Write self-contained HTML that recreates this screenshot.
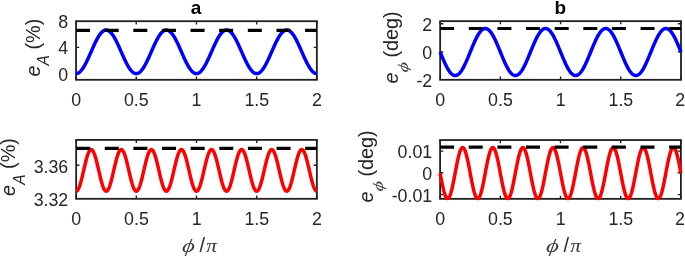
<!DOCTYPE html>
<html><head><meta charset="utf-8"><title>figure</title>
<style>
html,body{margin:0;padding:0;background:#fff;}
svg{display:block;}
text{font-family:"Liberation Sans",sans-serif;fill:#262626;}
.tk{font-size:17.8px;}
.lb{font-size:19.85px;}
.ti{font-size:19px;font-weight:bold;fill:#000;}
.it{font-style:italic;}
.m{font-family:"Liberation Serif","DejaVu Serif",serif;font-style:italic;fill:#383838;}
</style></head><body>
<svg width="685" height="257" viewBox="0 0 685 257">
<rect width="685" height="257" fill="#fff"/>

<rect x="76.05" y="21.2" width="240.8" height="58.6" fill="none" stroke="#202020" stroke-width="1.8"/>
<path d="M76.05 79.8v-3.2M76.05 21.2v3.2M136.25 79.8v-3.2M136.25 21.2v3.2M196.45 79.8v-3.2M196.45 21.2v3.2M256.65 79.8v-3.2M256.65 21.2v3.2M316.85 79.8v-3.2M316.85 21.2v3.2M76.05 47.4h3.2M316.85 47.4h-3.2M76.05 73.6h3.2M316.85 73.6h-3.2" stroke="#202020" stroke-width="1.4" fill="none"/>
<polyline points="76.05,73.6 76.45,73.58 76.85,73.52 77.25,73.43 77.66,73.29 78.06,73.12 78.46,72.92 78.86,72.67 79.26,72.39 79.66,72.07 80.06,71.72 80.46,71.33 80.87,70.9 81.27,70.45 81.67,69.96 82.07,69.44 82.47,68.88 82.87,68.3 83.27,67.69 83.68,67.05 84.08,66.39 84.48,65.7 84.88,64.98 85.28,64.24 85.68,63.48 86.08,62.7 86.48,61.9 86.89,61.08 87.29,60.25 87.69,59.4 88.09,58.54 88.49,57.66 88.89,56.78 89.29,55.88 89.7,54.98 90.1,54.08 90.5,53.17 90.9,52.26 91.3,51.34 91.7,50.43 92.1,49.52 92.5,48.62 92.91,47.72 93.31,46.82 93.71,45.94 94.11,45.06 94.51,44.2 94.91,43.35 95.31,42.52 95.72,41.7 96.12,40.9 96.52,40.12 96.92,39.36 97.32,38.62 97.72,37.9 98.12,37.21 98.52,36.55 98.93,35.91 99.33,35.3 99.73,34.72 100.13,34.16 100.53,33.64 100.93,33.15 101.33,32.7 101.74,32.27 102.14,31.88 102.54,31.53 102.94,31.21 103.34,30.93 103.74,30.68 104.14,30.48 104.54,30.31 104.95,30.17 105.35,30.08 105.75,30.02 106.15,30 106.55,30.02 106.95,30.08 107.35,30.17 107.76,30.31 108.16,30.48 108.56,30.68 108.96,30.93 109.36,31.21 109.76,31.53 110.16,31.88 110.56,32.27 110.97,32.7 111.37,33.15 111.77,33.64 112.17,34.16 112.57,34.72 112.97,35.3 113.37,35.91 113.78,36.55 114.18,37.21 114.58,37.9 114.98,38.62 115.38,39.36 115.78,40.12 116.18,40.9 116.58,41.7 116.99,42.52 117.39,43.35 117.79,44.2 118.19,45.06 118.59,45.94 118.99,46.82 119.39,47.72 119.8,48.62 120.2,49.52 120.6,50.43 121,51.34 121.4,52.26 121.8,53.17 122.2,54.08 122.6,54.98 123.01,55.88 123.41,56.78 123.81,57.66 124.21,58.54 124.61,59.4 125.01,60.25 125.41,61.08 125.82,61.9 126.22,62.7 126.62,63.48 127.02,64.24 127.42,64.98 127.82,65.7 128.22,66.39 128.62,67.05 129.03,67.69 129.43,68.3 129.83,68.88 130.23,69.44 130.63,69.96 131.03,70.45 131.43,70.9 131.84,71.33 132.24,71.72 132.64,72.07 133.04,72.39 133.44,72.67 133.84,72.92 134.24,73.12 134.64,73.29 135.05,73.43 135.45,73.52 135.85,73.58 136.25,73.6 136.65,73.58 137.05,73.52 137.45,73.43 137.86,73.29 138.26,73.12 138.66,72.92 139.06,72.67 139.46,72.39 139.86,72.07 140.26,71.72 140.66,71.33 141.07,70.9 141.47,70.45 141.87,69.96 142.27,69.44 142.67,68.88 143.07,68.3 143.47,67.69 143.88,67.05 144.28,66.39 144.68,65.7 145.08,64.98 145.48,64.24 145.88,63.48 146.28,62.7 146.68,61.9 147.09,61.08 147.49,60.25 147.89,59.4 148.29,58.54 148.69,57.66 149.09,56.78 149.49,55.88 149.9,54.98 150.3,54.08 150.7,53.17 151.1,52.26 151.5,51.34 151.9,50.43 152.3,49.52 152.7,48.62 153.11,47.72 153.51,46.82 153.91,45.94 154.31,45.06 154.71,44.2 155.11,43.35 155.51,42.52 155.92,41.7 156.32,40.9 156.72,40.12 157.12,39.36 157.52,38.62 157.92,37.9 158.32,37.21 158.72,36.55 159.13,35.91 159.53,35.3 159.93,34.72 160.33,34.16 160.73,33.64 161.13,33.15 161.53,32.7 161.94,32.27 162.34,31.88 162.74,31.53 163.14,31.21 163.54,30.93 163.94,30.68 164.34,30.48 164.74,30.31 165.15,30.17 165.55,30.08 165.95,30.02 166.35,30 166.75,30.02 167.15,30.08 167.55,30.17 167.96,30.31 168.36,30.48 168.76,30.68 169.16,30.93 169.56,31.21 169.96,31.53 170.36,31.88 170.76,32.27 171.17,32.7 171.57,33.15 171.97,33.64 172.37,34.16 172.77,34.72 173.17,35.3 173.57,35.91 173.98,36.55 174.38,37.21 174.78,37.9 175.18,38.62 175.58,39.36 175.98,40.12 176.38,40.9 176.78,41.7 177.19,42.52 177.59,43.35 177.99,44.2 178.39,45.06 178.79,45.94 179.19,46.82 179.59,47.72 180,48.62 180.4,49.52 180.8,50.43 181.2,51.34 181.6,52.26 182,53.17 182.4,54.08 182.8,54.98 183.21,55.88 183.61,56.78 184.01,57.66 184.41,58.54 184.81,59.4 185.21,60.25 185.61,61.08 186.02,61.9 186.42,62.7 186.82,63.48 187.22,64.24 187.62,64.98 188.02,65.7 188.42,66.39 188.82,67.05 189.23,67.69 189.63,68.3 190.03,68.88 190.43,69.44 190.83,69.96 191.23,70.45 191.63,70.9 192.04,71.33 192.44,71.72 192.84,72.07 193.24,72.39 193.64,72.67 194.04,72.92 194.44,73.12 194.84,73.29 195.25,73.43 195.65,73.52 196.05,73.58 196.45,73.6 196.85,73.58 197.25,73.52 197.65,73.43 198.06,73.29 198.46,73.12 198.86,72.92 199.26,72.67 199.66,72.39 200.06,72.07 200.46,71.72 200.86,71.33 201.27,70.9 201.67,70.45 202.07,69.96 202.47,69.44 202.87,68.88 203.27,68.3 203.67,67.69 204.08,67.05 204.48,66.39 204.88,65.7 205.28,64.98 205.68,64.24 206.08,63.48 206.48,62.7 206.88,61.9 207.29,61.08 207.69,60.25 208.09,59.4 208.49,58.54 208.89,57.66 209.29,56.78 209.69,55.88 210.1,54.98 210.5,54.08 210.9,53.17 211.3,52.26 211.7,51.34 212.1,50.43 212.5,49.52 212.9,48.62 213.31,47.72 213.71,46.82 214.11,45.94 214.51,45.06 214.91,44.2 215.31,43.35 215.71,42.52 216.12,41.7 216.52,40.9 216.92,40.12 217.32,39.36 217.72,38.62 218.12,37.9 218.52,37.21 218.92,36.55 219.33,35.91 219.73,35.3 220.13,34.72 220.53,34.16 220.93,33.64 221.33,33.15 221.73,32.7 222.14,32.27 222.54,31.88 222.94,31.53 223.34,31.21 223.74,30.93 224.14,30.68 224.54,30.48 224.94,30.31 225.35,30.17 225.75,30.08 226.15,30.02 226.55,30 226.95,30.02 227.35,30.08 227.75,30.17 228.16,30.31 228.56,30.48 228.96,30.68 229.36,30.93 229.76,31.21 230.16,31.53 230.56,31.88 230.96,32.27 231.37,32.7 231.77,33.15 232.17,33.64 232.57,34.16 232.97,34.72 233.37,35.3 233.77,35.91 234.18,36.55 234.58,37.21 234.98,37.9 235.38,38.62 235.78,39.36 236.18,40.12 236.58,40.9 236.98,41.7 237.39,42.52 237.79,43.35 238.19,44.2 238.59,45.06 238.99,45.94 239.39,46.82 239.79,47.72 240.2,48.62 240.6,49.52 241,50.43 241.4,51.34 241.8,52.26 242.2,53.17 242.6,54.08 243,54.98 243.41,55.88 243.81,56.78 244.21,57.66 244.61,58.54 245.01,59.4 245.41,60.25 245.81,61.08 246.22,61.9 246.62,62.7 247.02,63.48 247.42,64.24 247.82,64.98 248.22,65.7 248.62,66.39 249.02,67.05 249.43,67.69 249.83,68.3 250.23,68.88 250.63,69.44 251.03,69.96 251.43,70.45 251.83,70.9 252.24,71.33 252.64,71.72 253.04,72.07 253.44,72.39 253.84,72.67 254.24,72.92 254.64,73.12 255.04,73.29 255.45,73.43 255.85,73.52 256.25,73.58 256.65,73.6 257.05,73.58 257.45,73.52 257.85,73.43 258.26,73.29 258.66,73.12 259.06,72.92 259.46,72.67 259.86,72.39 260.26,72.07 260.66,71.72 261.06,71.33 261.47,70.9 261.87,70.45 262.27,69.96 262.67,69.44 263.07,68.88 263.47,68.3 263.87,67.69 264.28,67.05 264.68,66.39 265.08,65.7 265.48,64.98 265.88,64.24 266.28,63.48 266.68,62.7 267.08,61.9 267.49,61.08 267.89,60.25 268.29,59.4 268.69,58.54 269.09,57.66 269.49,56.78 269.89,55.88 270.3,54.98 270.7,54.08 271.1,53.17 271.5,52.26 271.9,51.34 272.3,50.43 272.7,49.52 273.1,48.62 273.51,47.72 273.91,46.82 274.31,45.94 274.71,45.06 275.11,44.2 275.51,43.35 275.91,42.52 276.32,41.7 276.72,40.9 277.12,40.12 277.52,39.36 277.92,38.62 278.32,37.9 278.72,37.21 279.12,36.55 279.53,35.91 279.93,35.3 280.33,34.72 280.73,34.16 281.13,33.64 281.53,33.15 281.93,32.7 282.34,32.27 282.74,31.88 283.14,31.53 283.54,31.21 283.94,30.93 284.34,30.68 284.74,30.48 285.14,30.31 285.55,30.17 285.95,30.08 286.35,30.02 286.75,30 287.15,30.02 287.55,30.08 287.95,30.17 288.36,30.31 288.76,30.48 289.16,30.68 289.56,30.93 289.96,31.21 290.36,31.53 290.76,31.88 291.16,32.27 291.57,32.7 291.97,33.15 292.37,33.64 292.77,34.16 293.17,34.72 293.57,35.3 293.97,35.91 294.38,36.55 294.78,37.21 295.18,37.9 295.58,38.62 295.98,39.36 296.38,40.12 296.78,40.9 297.18,41.7 297.59,42.52 297.99,43.35 298.39,44.2 298.79,45.06 299.19,45.94 299.59,46.82 299.99,47.72 300.4,48.62 300.8,49.52 301.2,50.43 301.6,51.34 302,52.26 302.4,53.17 302.8,54.08 303.2,54.98 303.61,55.88 304.01,56.78 304.41,57.66 304.81,58.54 305.21,59.4 305.61,60.25 306.01,61.08 306.42,61.9 306.82,62.7 307.22,63.48 307.62,64.24 308.02,64.98 308.42,65.7 308.82,66.39 309.22,67.05 309.63,67.69 310.03,68.3 310.43,68.88 310.83,69.44 311.23,69.96 311.63,70.45 312.03,70.9 312.44,71.33 312.84,71.72 313.24,72.07 313.64,72.39 314.04,72.67 314.44,72.92 314.84,73.12 315.24,73.29 315.65,73.43 316.05,73.52 316.45,73.58 316.85,73.6" fill="none" stroke="#0000ff" stroke-width="3.5" stroke-linejoin="round"/>
<line x1="76.05" y1="30.35" x2="316.85" y2="30.35" stroke="#000" stroke-width="3.2" stroke-dasharray="14 14.63"/>
<text class="tk" x="76.15" y="105.6" text-anchor="middle">0</text>
<text class="tk" x="136.35" y="105.6" text-anchor="middle">0.5</text>
<text class="tk" x="196.55" y="105.6" text-anchor="middle">1</text>
<text class="tk" x="256.75" y="105.6" text-anchor="middle">1.5</text>
<text class="tk" x="316.95" y="105.6" text-anchor="middle">2</text>
<text class="tk" x="68.15" y="28.1" text-anchor="end">8</text>
<text class="tk" x="68.15" y="54.4" text-anchor="end">4</text>
<text class="tk" x="68.15" y="80.6" text-anchor="end">0</text>
<rect x="440.15" y="21.15" width="240.85" height="58.65" fill="none" stroke="#202020" stroke-width="1.8"/>
<path d="M440.15 79.8v-3.2M440.15 21.15v3.2M500.36 79.8v-3.2M500.36 21.15v3.2M560.58 79.8v-3.2M560.58 21.15v3.2M620.79 79.8v-3.2M620.79 21.15v3.2M681 79.8v-3.2M681 21.15v3.2M440.15 23.8h3.2M681 23.8h-3.2M440.15 51.9h3.2M681 51.9h-3.2" stroke="#202020" stroke-width="1.4" fill="none"/>
<polyline points="440.15,52 440.55,52.98 440.95,53.97 441.35,54.95 441.76,55.92 442.16,56.89 442.56,57.84 442.96,58.79 443.36,59.73 443.76,60.65 444.16,61.56 444.57,62.45 444.97,63.32 445.37,64.17 445.77,65 446.17,65.81 446.57,66.6 446.97,67.36 447.38,68.09 447.78,68.79 448.18,69.46 448.58,70.11 448.98,70.72 449.38,71.3 449.78,71.84 450.19,72.35 450.59,72.83 450.99,73.26 451.39,73.66 451.79,74.03 452.19,74.35 452.59,74.63 453,74.88 453.4,75.08 453.8,75.25 454.2,75.37 454.6,75.45 455,75.49 455.4,75.49 455.81,75.45 456.21,75.37 456.61,75.25 457.01,75.08 457.41,74.88 457.81,74.63 458.21,74.35 458.62,74.03 459.02,73.66 459.42,73.26 459.82,72.83 460.22,72.35 460.62,71.84 461.02,71.3 461.43,70.72 461.83,70.11 462.23,69.46 462.63,68.79 463.03,68.09 463.43,67.36 463.83,66.6 464.23,65.81 464.64,65 465.04,64.17 465.44,63.32 465.84,62.45 466.24,61.56 466.64,60.65 467.04,59.73 467.45,58.79 467.85,57.84 468.25,56.89 468.65,55.92 469.05,54.95 469.45,53.97 469.85,52.98 470.26,52 470.66,51.02 471.06,50.03 471.46,49.05 471.86,48.08 472.26,47.11 472.66,46.16 473.07,45.21 473.47,44.27 473.87,43.35 474.27,42.44 474.67,41.55 475.07,40.68 475.47,39.83 475.88,39 476.28,38.19 476.68,37.4 477.08,36.64 477.48,35.91 477.88,35.21 478.28,34.54 478.69,33.89 479.09,33.28 479.49,32.7 479.89,32.16 480.29,31.65 480.69,31.17 481.09,30.74 481.5,30.34 481.9,29.97 482.3,29.65 482.7,29.37 483.1,29.12 483.5,28.92 483.9,28.75 484.31,28.63 484.71,28.55 485.11,28.51 485.51,28.51 485.91,28.55 486.31,28.63 486.71,28.75 487.12,28.92 487.52,29.12 487.92,29.37 488.32,29.65 488.72,29.97 489.12,30.34 489.52,30.74 489.93,31.17 490.33,31.65 490.73,32.16 491.13,32.7 491.53,33.28 491.93,33.89 492.33,34.54 492.74,35.21 493.14,35.91 493.54,36.64 493.94,37.4 494.34,38.19 494.74,39 495.14,39.83 495.55,40.68 495.95,41.55 496.35,42.44 496.75,43.35 497.15,44.27 497.55,45.21 497.95,46.16 498.36,47.11 498.76,48.08 499.16,49.05 499.56,50.03 499.96,51.02 500.36,52 500.76,52.98 501.17,53.97 501.57,54.95 501.97,55.92 502.37,56.89 502.77,57.84 503.17,58.79 503.57,59.73 503.98,60.65 504.38,61.56 504.78,62.45 505.18,63.32 505.58,64.17 505.98,65 506.38,65.81 506.79,66.6 507.19,67.36 507.59,68.09 507.99,68.79 508.39,69.46 508.79,70.11 509.19,70.72 509.6,71.3 510,71.84 510.4,72.35 510.8,72.83 511.2,73.26 511.6,73.66 512,74.03 512.4,74.35 512.81,74.63 513.21,74.88 513.61,75.08 514.01,75.25 514.41,75.37 514.81,75.45 515.21,75.49 515.62,75.49 516.02,75.45 516.42,75.37 516.82,75.25 517.22,75.08 517.62,74.88 518.02,74.63 518.43,74.35 518.83,74.03 519.23,73.66 519.63,73.26 520.03,72.83 520.43,72.35 520.83,71.84 521.24,71.3 521.64,70.72 522.04,70.11 522.44,69.46 522.84,68.79 523.24,68.09 523.64,67.36 524.05,66.6 524.45,65.81 524.85,65 525.25,64.17 525.65,63.32 526.05,62.45 526.45,61.56 526.86,60.65 527.26,59.73 527.66,58.79 528.06,57.84 528.46,56.89 528.86,55.92 529.26,54.95 529.67,53.97 530.07,52.98 530.47,52 530.87,51.02 531.27,50.03 531.67,49.05 532.07,48.08 532.48,47.11 532.88,46.16 533.28,45.21 533.68,44.27 534.08,43.35 534.48,42.44 534.88,41.55 535.29,40.68 535.69,39.83 536.09,39 536.49,38.19 536.89,37.4 537.29,36.64 537.69,35.91 538.1,35.21 538.5,34.54 538.9,33.89 539.3,33.28 539.7,32.7 540.1,32.16 540.5,31.65 540.91,31.17 541.31,30.74 541.71,30.34 542.11,29.97 542.51,29.65 542.91,29.37 543.31,29.12 543.72,28.92 544.12,28.75 544.52,28.63 544.92,28.55 545.32,28.51 545.72,28.51 546.12,28.55 546.53,28.63 546.93,28.75 547.33,28.92 547.73,29.12 548.13,29.37 548.53,29.65 548.93,29.97 549.34,30.34 549.74,30.74 550.14,31.17 550.54,31.65 550.94,32.16 551.34,32.7 551.74,33.28 552.15,33.89 552.55,34.54 552.95,35.21 553.35,35.91 553.75,36.64 554.15,37.4 554.55,38.19 554.96,39 555.36,39.83 555.76,40.68 556.16,41.55 556.56,42.44 556.96,43.35 557.36,44.27 557.77,45.21 558.17,46.16 558.57,47.11 558.97,48.08 559.37,49.05 559.77,50.03 560.17,51.02 560.58,52 560.98,52.98 561.38,53.97 561.78,54.95 562.18,55.92 562.58,56.89 562.98,57.84 563.38,58.79 563.79,59.73 564.19,60.65 564.59,61.56 564.99,62.45 565.39,63.32 565.79,64.17 566.19,65 566.6,65.81 567,66.6 567.4,67.36 567.8,68.09 568.2,68.79 568.6,69.46 569,70.11 569.41,70.72 569.81,71.3 570.21,71.84 570.61,72.35 571.01,72.83 571.41,73.26 571.81,73.66 572.22,74.03 572.62,74.35 573.02,74.63 573.42,74.88 573.82,75.08 574.22,75.25 574.62,75.37 575.03,75.45 575.43,75.49 575.83,75.49 576.23,75.45 576.63,75.37 577.03,75.25 577.43,75.08 577.84,74.88 578.24,74.63 578.64,74.35 579.04,74.03 579.44,73.66 579.84,73.26 580.24,72.83 580.65,72.35 581.05,71.84 581.45,71.3 581.85,70.72 582.25,70.11 582.65,69.46 583.05,68.79 583.46,68.09 583.86,67.36 584.26,66.6 584.66,65.81 585.06,65 585.46,64.17 585.86,63.32 586.27,62.45 586.67,61.56 587.07,60.65 587.47,59.73 587.87,58.79 588.27,57.84 588.67,56.89 589.08,55.92 589.48,54.95 589.88,53.97 590.28,52.98 590.68,52 591.08,51.02 591.48,50.03 591.89,49.05 592.29,48.08 592.69,47.11 593.09,46.16 593.49,45.21 593.89,44.27 594.29,43.35 594.7,42.44 595.1,41.55 595.5,40.68 595.9,39.83 596.3,39 596.7,38.19 597.1,37.4 597.51,36.64 597.91,35.91 598.31,35.21 598.71,34.54 599.11,33.89 599.51,33.28 599.91,32.7 600.32,32.16 600.72,31.65 601.12,31.17 601.52,30.74 601.92,30.34 602.32,29.97 602.72,29.65 603.13,29.37 603.53,29.12 603.93,28.92 604.33,28.75 604.73,28.63 605.13,28.55 605.53,28.51 605.94,28.51 606.34,28.55 606.74,28.63 607.14,28.75 607.54,28.92 607.94,29.12 608.34,29.37 608.75,29.65 609.15,29.97 609.55,30.34 609.95,30.74 610.35,31.17 610.75,31.65 611.15,32.16 611.55,32.7 611.96,33.28 612.36,33.89 612.76,34.54 613.16,35.21 613.56,35.91 613.96,36.64 614.36,37.4 614.77,38.19 615.17,39 615.57,39.83 615.97,40.68 616.37,41.55 616.77,42.44 617.17,43.35 617.58,44.27 617.98,45.21 618.38,46.16 618.78,47.11 619.18,48.08 619.58,49.05 619.98,50.03 620.39,51.02 620.79,52 621.19,52.98 621.59,53.97 621.99,54.95 622.39,55.92 622.79,56.89 623.2,57.84 623.6,58.79 624,59.73 624.4,60.65 624.8,61.56 625.2,62.45 625.6,63.32 626.01,64.17 626.41,65 626.81,65.81 627.21,66.6 627.61,67.36 628.01,68.09 628.41,68.79 628.82,69.46 629.22,70.11 629.62,70.72 630.02,71.3 630.42,71.84 630.82,72.35 631.22,72.83 631.63,73.26 632.03,73.66 632.43,74.03 632.83,74.35 633.23,74.63 633.63,74.88 634.03,75.08 634.44,75.25 634.84,75.37 635.24,75.45 635.64,75.49 636.04,75.49 636.44,75.45 636.84,75.37 637.25,75.25 637.65,75.08 638.05,74.88 638.45,74.63 638.85,74.35 639.25,74.03 639.65,73.66 640.06,73.26 640.46,72.83 640.86,72.35 641.26,71.84 641.66,71.3 642.06,70.72 642.46,70.11 642.87,69.46 643.27,68.79 643.67,68.09 644.07,67.36 644.47,66.6 644.87,65.81 645.27,65 645.68,64.17 646.08,63.32 646.48,62.45 646.88,61.56 647.28,60.65 647.68,59.73 648.08,58.79 648.49,57.84 648.89,56.89 649.29,55.92 649.69,54.95 650.09,53.97 650.49,52.98 650.89,52 651.3,51.02 651.7,50.03 652.1,49.05 652.5,48.08 652.9,47.11 653.3,46.16 653.7,45.21 654.11,44.27 654.51,43.35 654.91,42.44 655.31,41.55 655.71,40.68 656.11,39.83 656.51,39 656.91,38.19 657.32,37.4 657.72,36.64 658.12,35.91 658.52,35.21 658.92,34.54 659.32,33.89 659.72,33.28 660.13,32.7 660.53,32.16 660.93,31.65 661.33,31.17 661.73,30.74 662.13,30.34 662.53,29.97 662.94,29.65 663.34,29.37 663.74,29.12 664.14,28.92 664.54,28.75 664.94,28.63 665.34,28.55 665.75,28.51 666.15,28.51 666.55,28.55 666.95,28.63 667.35,28.75 667.75,28.92 668.15,29.12 668.56,29.37 668.96,29.65 669.36,29.97 669.76,30.34 670.16,30.74 670.56,31.17 670.96,31.65 671.37,32.16 671.77,32.7 672.17,33.28 672.57,33.89 672.97,34.54 673.37,35.21 673.77,35.91 674.18,36.64 674.58,37.4 674.98,38.19 675.38,39 675.78,39.83 676.18,40.68 676.58,41.55 676.99,42.44 677.39,43.35 677.79,44.27 678.19,45.21 678.59,46.16 678.99,47.11 679.39,48.08 679.8,49.05 680.2,50.03 680.6,51.02 681,52" fill="none" stroke="#0000ff" stroke-width="3.5" stroke-linejoin="round"/>
<line x1="440.15" y1="28.5" x2="681" y2="28.5" stroke="#000" stroke-width="3.2" stroke-dasharray="14 14.63"/>
<text class="tk" x="440.25" y="105.6" text-anchor="middle">0</text>
<text class="tk" x="500.46" y="105.6" text-anchor="middle">0.5</text>
<text class="tk" x="560.68" y="105.6" text-anchor="middle">1</text>
<text class="tk" x="620.89" y="105.6" text-anchor="middle">1.5</text>
<text class="tk" x="680.1" y="105.6" text-anchor="middle">2</text>
<text class="tk" x="432.25" y="30.6" text-anchor="end">2</text>
<text class="tk" x="432.25" y="58.8" text-anchor="end">0</text>
<text class="tk" x="432.25" y="87.2" text-anchor="end">-2</text>
<rect x="76.15" y="139.9" width="240.7" height="58.9" fill="none" stroke="#202020" stroke-width="1.8"/>
<path d="M76.15 198.8v-3.2M76.15 139.9v3.2M136.33 198.8v-3.2M136.33 139.9v3.2M196.5 198.8v-3.2M196.5 139.9v3.2M256.68 198.8v-3.2M256.68 139.9v3.2M316.85 198.8v-3.2M316.85 139.9v3.2M76.15 165.2h3.2M316.85 165.2h-3.2" stroke="#202020" stroke-width="1.4" fill="none"/>
<polyline points="76.15,191.2 76.55,191.13 76.95,190.91 77.35,190.55 77.75,190.04 78.16,189.4 78.56,188.63 78.96,187.72 79.36,186.7 79.76,185.56 80.16,184.32 80.56,182.98 80.96,181.55 81.37,180.04 81.77,178.46 82.17,176.83 82.57,175.15 82.97,173.44 83.37,171.71 83.77,169.96 84.17,168.23 84.57,166.5 84.98,164.81 85.38,163.15 85.78,161.54 86.18,160 86.58,158.53 86.98,157.14 87.38,155.85 87.78,154.65 88.19,153.57 88.59,152.61 88.99,151.77 89.39,151.06 89.79,150.49 90.19,150.05 90.59,149.76 90.99,149.62 91.39,149.62 91.8,149.76 92.2,150.05 92.6,150.49 93,151.06 93.4,151.77 93.8,152.61 94.2,153.57 94.6,154.65 95,155.85 95.41,157.14 95.81,158.53 96.21,160 96.61,161.54 97.01,163.15 97.41,164.81 97.81,166.5 98.21,168.23 98.62,169.96 99.02,171.71 99.42,173.44 99.82,175.15 100.22,176.83 100.62,178.46 101.02,180.04 101.42,181.55 101.82,182.98 102.23,184.32 102.63,185.56 103.03,186.7 103.43,187.72 103.83,188.63 104.23,189.4 104.63,190.04 105.03,190.55 105.44,190.91 105.84,191.13 106.24,191.2 106.64,191.13 107.04,190.91 107.44,190.55 107.84,190.04 108.24,189.4 108.64,188.63 109.05,187.72 109.45,186.7 109.85,185.56 110.25,184.32 110.65,182.98 111.05,181.55 111.45,180.04 111.85,178.46 112.26,176.83 112.66,175.15 113.06,173.44 113.46,171.71 113.86,169.96 114.26,168.23 114.66,166.5 115.06,164.81 115.46,163.15 115.87,161.54 116.27,160 116.67,158.53 117.07,157.14 117.47,155.85 117.87,154.65 118.27,153.57 118.67,152.61 119.07,151.77 119.48,151.06 119.88,150.49 120.28,150.05 120.68,149.76 121.08,149.62 121.48,149.62 121.88,149.76 122.28,150.05 122.69,150.49 123.09,151.06 123.49,151.77 123.89,152.61 124.29,153.57 124.69,154.65 125.09,155.85 125.49,157.14 125.89,158.53 126.3,160 126.7,161.54 127.1,163.15 127.5,164.81 127.9,166.5 128.3,168.23 128.7,169.96 129.1,171.71 129.51,173.44 129.91,175.15 130.31,176.83 130.71,178.46 131.11,180.04 131.51,181.55 131.91,182.98 132.31,184.32 132.71,185.56 133.12,186.7 133.52,187.72 133.92,188.63 134.32,189.4 134.72,190.04 135.12,190.55 135.52,190.91 135.92,191.13 136.33,191.2 136.73,191.13 137.13,190.91 137.53,190.55 137.93,190.04 138.33,189.4 138.73,188.63 139.13,187.72 139.53,186.7 139.94,185.56 140.34,184.32 140.74,182.98 141.14,181.55 141.54,180.04 141.94,178.46 142.34,176.83 142.74,175.15 143.14,173.44 143.55,171.71 143.95,169.96 144.35,168.23 144.75,166.5 145.15,164.81 145.55,163.15 145.95,161.54 146.35,160 146.76,158.53 147.16,157.14 147.56,155.85 147.96,154.65 148.36,153.57 148.76,152.61 149.16,151.77 149.56,151.06 149.96,150.49 150.37,150.05 150.77,149.76 151.17,149.62 151.57,149.62 151.97,149.76 152.37,150.05 152.77,150.49 153.17,151.06 153.58,151.77 153.98,152.61 154.38,153.57 154.78,154.65 155.18,155.85 155.58,157.14 155.98,158.53 156.38,160 156.78,161.54 157.19,163.15 157.59,164.81 157.99,166.5 158.39,168.23 158.79,169.96 159.19,171.71 159.59,173.44 159.99,175.15 160.4,176.83 160.8,178.46 161.2,180.04 161.6,181.55 162,182.98 162.4,184.32 162.8,185.56 163.2,186.7 163.6,187.72 164.01,188.63 164.41,189.4 164.81,190.04 165.21,190.55 165.61,190.91 166.01,191.13 166.41,191.2 166.81,191.13 167.21,190.91 167.62,190.55 168.02,190.04 168.42,189.4 168.82,188.63 169.22,187.72 169.62,186.7 170.02,185.56 170.42,184.32 170.83,182.98 171.23,181.55 171.63,180.04 172.03,178.46 172.43,176.83 172.83,175.15 173.23,173.44 173.63,171.71 174.03,169.96 174.44,168.23 174.84,166.5 175.24,164.81 175.64,163.15 176.04,161.54 176.44,160 176.84,158.53 177.24,157.14 177.65,155.85 178.05,154.65 178.45,153.57 178.85,152.61 179.25,151.77 179.65,151.06 180.05,150.49 180.45,150.05 180.85,149.76 181.26,149.62 181.66,149.62 182.06,149.76 182.46,150.05 182.86,150.49 183.26,151.06 183.66,151.77 184.06,152.61 184.47,153.57 184.87,154.65 185.27,155.85 185.67,157.14 186.07,158.53 186.47,160 186.87,161.54 187.27,163.15 187.67,164.81 188.08,166.5 188.48,168.23 188.88,169.96 189.28,171.71 189.68,173.44 190.08,175.15 190.48,176.83 190.88,178.46 191.28,180.04 191.69,181.55 192.09,182.98 192.49,184.32 192.89,185.56 193.29,186.7 193.69,187.72 194.09,188.63 194.49,189.4 194.9,190.04 195.3,190.55 195.7,190.91 196.1,191.13 196.5,191.2 196.9,191.13 197.3,190.91 197.7,190.55 198.1,190.04 198.51,189.4 198.91,188.63 199.31,187.72 199.71,186.7 200.11,185.56 200.51,184.32 200.91,182.98 201.31,181.55 201.72,180.04 202.12,178.46 202.52,176.83 202.92,175.15 203.32,173.44 203.72,171.71 204.12,169.96 204.52,168.23 204.92,166.5 205.33,164.81 205.73,163.15 206.13,161.54 206.53,160 206.93,158.53 207.33,157.14 207.73,155.85 208.13,154.65 208.54,153.57 208.94,152.61 209.34,151.77 209.74,151.06 210.14,150.49 210.54,150.05 210.94,149.76 211.34,149.62 211.74,149.62 212.15,149.76 212.55,150.05 212.95,150.49 213.35,151.06 213.75,151.77 214.15,152.61 214.55,153.57 214.95,154.65 215.35,155.85 215.76,157.14 216.16,158.53 216.56,160 216.96,161.54 217.36,163.15 217.76,164.81 218.16,166.5 218.56,168.23 218.97,169.96 219.37,171.71 219.77,173.44 220.17,175.15 220.57,176.83 220.97,178.46 221.37,180.04 221.77,181.55 222.17,182.98 222.58,184.32 222.98,185.56 223.38,186.7 223.78,187.72 224.18,188.63 224.58,189.4 224.98,190.04 225.38,190.55 225.79,190.91 226.19,191.13 226.59,191.2 226.99,191.13 227.39,190.91 227.79,190.55 228.19,190.04 228.59,189.4 228.99,188.63 229.4,187.72 229.8,186.7 230.2,185.56 230.6,184.32 231,182.98 231.4,181.55 231.8,180.04 232.2,178.46 232.61,176.83 233.01,175.15 233.41,173.44 233.81,171.71 234.21,169.96 234.61,168.23 235.01,166.5 235.41,164.81 235.81,163.15 236.22,161.54 236.62,160 237.02,158.53 237.42,157.14 237.82,155.85 238.22,154.65 238.62,153.57 239.02,152.61 239.42,151.77 239.83,151.06 240.23,150.49 240.63,150.05 241.03,149.76 241.43,149.62 241.83,149.62 242.23,149.76 242.63,150.05 243.04,150.49 243.44,151.06 243.84,151.77 244.24,152.61 244.64,153.57 245.04,154.65 245.44,155.85 245.84,157.14 246.24,158.53 246.65,160 247.05,161.54 247.45,163.15 247.85,164.81 248.25,166.5 248.65,168.23 249.05,169.96 249.45,171.71 249.86,173.44 250.26,175.15 250.66,176.83 251.06,178.46 251.46,180.04 251.86,181.55 252.26,182.98 252.66,184.32 253.06,185.56 253.47,186.7 253.87,187.72 254.27,188.63 254.67,189.4 255.07,190.04 255.47,190.55 255.87,190.91 256.27,191.13 256.68,191.2 257.08,191.13 257.48,190.91 257.88,190.55 258.28,190.04 258.68,189.4 259.08,188.63 259.48,187.72 259.88,186.7 260.29,185.56 260.69,184.32 261.09,182.98 261.49,181.55 261.89,180.04 262.29,178.46 262.69,176.83 263.09,175.15 263.49,173.44 263.9,171.71 264.3,169.96 264.7,168.23 265.1,166.5 265.5,164.81 265.9,163.15 266.3,161.54 266.7,160 267.11,158.53 267.51,157.14 267.91,155.85 268.31,154.65 268.71,153.57 269.11,152.61 269.51,151.77 269.91,151.06 270.31,150.49 270.72,150.05 271.12,149.76 271.52,149.62 271.92,149.62 272.32,149.76 272.72,150.05 273.12,150.49 273.52,151.06 273.93,151.77 274.33,152.61 274.73,153.57 275.13,154.65 275.53,155.85 275.93,157.14 276.33,158.53 276.73,160 277.13,161.54 277.54,163.15 277.94,164.81 278.34,166.5 278.74,168.23 279.14,169.96 279.54,171.71 279.94,173.44 280.34,175.15 280.75,176.83 281.15,178.46 281.55,180.04 281.95,181.55 282.35,182.98 282.75,184.32 283.15,185.56 283.55,186.7 283.95,187.72 284.36,188.63 284.76,189.4 285.16,190.04 285.56,190.55 285.96,190.91 286.36,191.13 286.76,191.2 287.16,191.13 287.56,190.91 287.97,190.55 288.37,190.04 288.77,189.4 289.17,188.63 289.57,187.72 289.97,186.7 290.37,185.56 290.77,184.32 291.18,182.98 291.58,181.55 291.98,180.04 292.38,178.46 292.78,176.83 293.18,175.15 293.58,173.44 293.98,171.71 294.38,169.96 294.79,168.23 295.19,166.5 295.59,164.81 295.99,163.15 296.39,161.54 296.79,160 297.19,158.53 297.59,157.14 298,155.85 298.4,154.65 298.8,153.57 299.2,152.61 299.6,151.77 300,151.06 300.4,150.49 300.8,150.05 301.2,149.76 301.61,149.62 302.01,149.62 302.41,149.76 302.81,150.05 303.21,150.49 303.61,151.06 304.01,151.77 304.41,152.61 304.82,153.57 305.22,154.65 305.62,155.85 306.02,157.14 306.42,158.53 306.82,160 307.22,161.54 307.62,163.15 308.02,164.81 308.43,166.5 308.83,168.23 309.23,169.96 309.63,171.71 310.03,173.44 310.43,175.15 310.83,176.83 311.23,178.46 311.63,180.04 312.04,181.55 312.44,182.98 312.84,184.32 313.24,185.56 313.64,186.7 314.04,187.72 314.44,188.63 314.84,189.4 315.25,190.04 315.65,190.55 316.05,190.91 316.45,191.13 316.85,191.2" fill="none" stroke="#ff0000" stroke-width="3.5" stroke-linejoin="round"/>
<line x1="76.15" y1="148.4" x2="316.85" y2="148.4" stroke="#000" stroke-width="3.2" stroke-dasharray="14 14.63"/>
<text class="tk" x="76.25" y="224.7" text-anchor="middle">0</text>
<text class="tk" x="136.43" y="224.7" text-anchor="middle">0.5</text>
<text class="tk" x="196.6" y="224.7" text-anchor="middle">1</text>
<text class="tk" x="256.78" y="224.7" text-anchor="middle">1.5</text>
<text class="tk" x="316.95" y="224.7" text-anchor="middle">2</text>
<text class="tk" x="68.25" y="172.6" text-anchor="end">3.36</text>
<text class="tk" x="68.25" y="205.9" text-anchor="end">3.32</text>
<rect x="440.1" y="140.05" width="240.8" height="58.8" fill="none" stroke="#202020" stroke-width="1.8"/>
<path d="M440.1 198.85v-3.2M440.1 140.05v3.2M500.3 198.85v-3.2M500.3 140.05v3.2M560.5 198.85v-3.2M560.5 140.05v3.2M620.7 198.85v-3.2M620.7 140.05v3.2M680.9 198.85v-3.2M680.9 140.05v3.2M440.1 151.1h3.2M680.9 151.1h-3.2M440.1 172.8h3.2M680.9 172.8h-3.2M440.1 194.6h3.2M680.9 194.6h-3.2" stroke="#202020" stroke-width="1.4" fill="none"/>
<polyline points="440.1,173.1 440.5,175.23 440.9,177.35 441.3,179.44 441.71,181.49 442.11,183.47 442.51,185.38 442.91,187.21 443.31,188.94 443.71,190.56 444.11,192.05 444.51,193.41 444.92,194.63 445.32,195.7 445.72,196.61 446.12,197.35 446.52,197.93 446.92,198.33 447.32,198.55 447.73,198.59 448.13,198.46 448.53,198.15 448.93,197.66 449.33,197 449.73,196.17 450.13,195.18 450.53,194.04 450.94,192.75 451.34,191.32 451.74,189.76 452.14,188.09 452.54,186.31 452.94,184.44 453.34,182.49 453.75,180.47 454.15,178.4 454.55,176.3 454.95,174.17 455.35,172.03 455.75,169.9 456.15,167.8 456.55,165.73 456.96,163.71 457.36,161.76 457.76,159.89 458.16,158.11 458.56,156.44 458.96,154.88 459.36,153.45 459.77,152.16 460.17,151.02 460.57,150.03 460.97,149.2 461.37,148.54 461.77,148.05 462.17,147.74 462.57,147.61 462.98,147.65 463.38,147.87 463.78,148.27 464.18,148.85 464.58,149.59 464.98,150.5 465.38,151.57 465.79,152.79 466.19,154.15 466.59,155.64 466.99,157.26 467.39,158.99 467.79,160.82 468.19,162.73 468.59,164.71 469,166.76 469.4,168.85 469.8,170.97 470.2,173.1 470.6,175.23 471,177.35 471.4,179.44 471.81,181.49 472.21,183.47 472.61,185.38 473.01,187.21 473.41,188.94 473.81,190.56 474.21,192.05 474.61,193.41 475.02,194.63 475.42,195.7 475.82,196.61 476.22,197.35 476.62,197.93 477.02,198.33 477.42,198.55 477.83,198.59 478.23,198.46 478.63,198.15 479.03,197.66 479.43,197 479.83,196.17 480.23,195.18 480.63,194.04 481.04,192.75 481.44,191.32 481.84,189.76 482.24,188.09 482.64,186.31 483.04,184.44 483.44,182.49 483.85,180.47 484.25,178.4 484.65,176.3 485.05,174.17 485.45,172.03 485.85,169.9 486.25,167.8 486.65,165.73 487.06,163.71 487.46,161.76 487.86,159.89 488.26,158.11 488.66,156.44 489.06,154.88 489.46,153.45 489.87,152.16 490.27,151.02 490.67,150.03 491.07,149.2 491.47,148.54 491.87,148.05 492.27,147.74 492.67,147.61 493.08,147.65 493.48,147.87 493.88,148.27 494.28,148.85 494.68,149.59 495.08,150.5 495.48,151.57 495.89,152.79 496.29,154.15 496.69,155.64 497.09,157.26 497.49,158.99 497.89,160.82 498.29,162.73 498.69,164.71 499.1,166.76 499.5,168.85 499.9,170.97 500.3,173.1 500.7,175.23 501.1,177.35 501.5,179.44 501.91,181.49 502.31,183.47 502.71,185.38 503.11,187.21 503.51,188.94 503.91,190.56 504.31,192.05 504.71,193.41 505.12,194.63 505.52,195.7 505.92,196.61 506.32,197.35 506.72,197.93 507.12,198.33 507.52,198.55 507.93,198.59 508.33,198.46 508.73,198.15 509.13,197.66 509.53,197 509.93,196.17 510.33,195.18 510.73,194.04 511.14,192.75 511.54,191.32 511.94,189.76 512.34,188.09 512.74,186.31 513.14,184.44 513.54,182.49 513.95,180.47 514.35,178.4 514.75,176.3 515.15,174.17 515.55,172.03 515.95,169.9 516.35,167.8 516.75,165.73 517.16,163.71 517.56,161.76 517.96,159.89 518.36,158.11 518.76,156.44 519.16,154.88 519.56,153.45 519.97,152.16 520.37,151.02 520.77,150.03 521.17,149.2 521.57,148.54 521.97,148.05 522.37,147.74 522.77,147.61 523.18,147.65 523.58,147.87 523.98,148.27 524.38,148.85 524.78,149.59 525.18,150.5 525.58,151.57 525.99,152.79 526.39,154.15 526.79,155.64 527.19,157.26 527.59,158.99 527.99,160.82 528.39,162.73 528.79,164.71 529.2,166.76 529.6,168.85 530,170.97 530.4,173.1 530.8,175.23 531.2,177.35 531.6,179.44 532.01,181.49 532.41,183.47 532.81,185.38 533.21,187.21 533.61,188.94 534.01,190.56 534.41,192.05 534.81,193.41 535.22,194.63 535.62,195.7 536.02,196.61 536.42,197.35 536.82,197.93 537.22,198.33 537.62,198.55 538.03,198.59 538.43,198.46 538.83,198.15 539.23,197.66 539.63,197 540.03,196.17 540.43,195.18 540.83,194.04 541.24,192.75 541.64,191.32 542.04,189.76 542.44,188.09 542.84,186.31 543.24,184.44 543.64,182.49 544.05,180.47 544.45,178.4 544.85,176.3 545.25,174.17 545.65,172.03 546.05,169.9 546.45,167.8 546.85,165.73 547.26,163.71 547.66,161.76 548.06,159.89 548.46,158.11 548.86,156.44 549.26,154.88 549.66,153.45 550.07,152.16 550.47,151.02 550.87,150.03 551.27,149.2 551.67,148.54 552.07,148.05 552.47,147.74 552.87,147.61 553.28,147.65 553.68,147.87 554.08,148.27 554.48,148.85 554.88,149.59 555.28,150.5 555.68,151.57 556.09,152.79 556.49,154.15 556.89,155.64 557.29,157.26 557.69,158.99 558.09,160.82 558.49,162.73 558.89,164.71 559.3,166.76 559.7,168.85 560.1,170.97 560.5,173.1 560.9,175.23 561.3,177.35 561.7,179.44 562.11,181.49 562.51,183.47 562.91,185.38 563.31,187.21 563.71,188.94 564.11,190.56 564.51,192.05 564.91,193.41 565.32,194.63 565.72,195.7 566.12,196.61 566.52,197.35 566.92,197.93 567.32,198.33 567.72,198.55 568.13,198.59 568.53,198.46 568.93,198.15 569.33,197.66 569.73,197 570.13,196.17 570.53,195.18 570.93,194.04 571.34,192.75 571.74,191.32 572.14,189.76 572.54,188.09 572.94,186.31 573.34,184.44 573.74,182.49 574.15,180.47 574.55,178.4 574.95,176.3 575.35,174.17 575.75,172.03 576.15,169.9 576.55,167.8 576.95,165.73 577.36,163.71 577.76,161.76 578.16,159.89 578.56,158.11 578.96,156.44 579.36,154.88 579.76,153.45 580.17,152.16 580.57,151.02 580.97,150.03 581.37,149.2 581.77,148.54 582.17,148.05 582.57,147.74 582.97,147.61 583.38,147.65 583.78,147.87 584.18,148.27 584.58,148.85 584.98,149.59 585.38,150.5 585.78,151.57 586.19,152.79 586.59,154.15 586.99,155.64 587.39,157.26 587.79,158.99 588.19,160.82 588.59,162.73 588.99,164.71 589.4,166.76 589.8,168.85 590.2,170.97 590.6,173.1 591,175.23 591.4,177.35 591.8,179.44 592.21,181.49 592.61,183.47 593.01,185.38 593.41,187.21 593.81,188.94 594.21,190.56 594.61,192.05 595.01,193.41 595.42,194.63 595.82,195.7 596.22,196.61 596.62,197.35 597.02,197.93 597.42,198.33 597.82,198.55 598.23,198.59 598.63,198.46 599.03,198.15 599.43,197.66 599.83,197 600.23,196.17 600.63,195.18 601.03,194.04 601.44,192.75 601.84,191.32 602.24,189.76 602.64,188.09 603.04,186.31 603.44,184.44 603.84,182.49 604.25,180.47 604.65,178.4 605.05,176.3 605.45,174.17 605.85,172.03 606.25,169.9 606.65,167.8 607.05,165.73 607.46,163.71 607.86,161.76 608.26,159.89 608.66,158.11 609.06,156.44 609.46,154.88 609.86,153.45 610.27,152.16 610.67,151.02 611.07,150.03 611.47,149.2 611.87,148.54 612.27,148.05 612.67,147.74 613.07,147.61 613.48,147.65 613.88,147.87 614.28,148.27 614.68,148.85 615.08,149.59 615.48,150.5 615.88,151.57 616.29,152.79 616.69,154.15 617.09,155.64 617.49,157.26 617.89,158.99 618.29,160.82 618.69,162.73 619.09,164.71 619.5,166.76 619.9,168.85 620.3,170.97 620.7,173.1 621.1,175.23 621.5,177.35 621.9,179.44 622.31,181.49 622.71,183.47 623.11,185.38 623.51,187.21 623.91,188.94 624.31,190.56 624.71,192.05 625.11,193.41 625.52,194.63 625.92,195.7 626.32,196.61 626.72,197.35 627.12,197.93 627.52,198.33 627.92,198.55 628.33,198.59 628.73,198.46 629.13,198.15 629.53,197.66 629.93,197 630.33,196.17 630.73,195.18 631.13,194.04 631.54,192.75 631.94,191.32 632.34,189.76 632.74,188.09 633.14,186.31 633.54,184.44 633.94,182.49 634.35,180.47 634.75,178.4 635.15,176.3 635.55,174.17 635.95,172.03 636.35,169.9 636.75,167.8 637.15,165.73 637.56,163.71 637.96,161.76 638.36,159.89 638.76,158.11 639.16,156.44 639.56,154.88 639.96,153.45 640.37,152.16 640.77,151.02 641.17,150.03 641.57,149.2 641.97,148.54 642.37,148.05 642.77,147.74 643.17,147.61 643.58,147.65 643.98,147.87 644.38,148.27 644.78,148.85 645.18,149.59 645.58,150.5 645.98,151.57 646.39,152.79 646.79,154.15 647.19,155.64 647.59,157.26 647.99,158.99 648.39,160.82 648.79,162.73 649.19,164.71 649.6,166.76 650,168.85 650.4,170.97 650.8,173.1 651.2,175.23 651.6,177.35 652,179.44 652.41,181.49 652.81,183.47 653.21,185.38 653.61,187.21 654.01,188.94 654.41,190.56 654.81,192.05 655.21,193.41 655.62,194.63 656.02,195.7 656.42,196.61 656.82,197.35 657.22,197.93 657.62,198.33 658.02,198.55 658.43,198.59 658.83,198.46 659.23,198.15 659.63,197.66 660.03,197 660.43,196.17 660.83,195.18 661.23,194.04 661.64,192.75 662.04,191.32 662.44,189.76 662.84,188.09 663.24,186.31 663.64,184.44 664.04,182.49 664.45,180.47 664.85,178.4 665.25,176.3 665.65,174.17 666.05,172.03 666.45,169.9 666.85,167.8 667.25,165.73 667.66,163.71 668.06,161.76 668.46,159.89 668.86,158.11 669.26,156.44 669.66,154.88 670.06,153.45 670.47,152.16 670.87,151.02 671.27,150.03 671.67,149.2 672.07,148.54 672.47,148.05 672.87,147.74 673.27,147.61 673.68,147.65 674.08,147.87 674.48,148.27 674.88,148.85 675.28,149.59 675.68,150.5 676.08,151.57 676.49,152.79 676.89,154.15 677.29,155.64 677.69,157.26 678.09,158.99 678.49,160.82 678.89,162.73 679.29,164.71 679.7,166.76 680.1,168.85 680.5,170.97 680.9,173.1" fill="none" stroke="#ff0000" stroke-width="3.5" stroke-linejoin="round"/>
<line x1="440.1" y1="147.1" x2="680.9" y2="147.1" stroke="#000" stroke-width="3.2" stroke-dasharray="14 14.63"/>
<text class="tk" x="440.2" y="224.7" text-anchor="middle">0</text>
<text class="tk" x="500.4" y="224.7" text-anchor="middle">0.5</text>
<text class="tk" x="560.6" y="224.7" text-anchor="middle">1</text>
<text class="tk" x="620.8" y="224.7" text-anchor="middle">1.5</text>
<text class="tk" x="680" y="224.7" text-anchor="middle">2</text>
<text class="tk" x="432.2" y="158" text-anchor="end">0.01</text>
<text class="tk" x="432.2" y="179.8" text-anchor="end">0</text>
<text class="tk" x="432.2" y="201.7" text-anchor="end">-0.01</text>
<text class="ti" x="196.1" y="14" text-anchor="middle">a</text>
<text class="ti" x="560.2" y="14" text-anchor="middle">b</text>
<text class="m" font-size="21" transform="translate(181.6,252) skewX(-9) scale(1.15,0.9)">ϕ</text>
<text class="lb" x="199.5" y="252">/</text>
<text class="m" font-size="19.5" transform="translate(206.2,252) scale(1.1,1)">π</text>
<text class="m" font-size="21" transform="translate(545.6,252) skewX(-9) scale(1.15,0.9)">ϕ</text>
<text class="lb" x="563.5" y="252">/</text>
<text class="m" font-size="19.5" transform="translate(570.2,252) scale(1.1,1)">π</text>
<g transform="translate(39.7,76.6) rotate(-90)"><text class="lb it" x="0" y="0">e</text><text class="it" font-size="15.7" x="11.1" y="9.4">A</text><text class="lb" x="27" y="0">(%)</text></g>
<g transform="translate(15.2,195.9) rotate(-90)"><text class="lb it" x="0" y="0">e</text><text class="it" font-size="15.7" x="11.1" y="9.4">A</text><text class="lb" x="27" y="0">(%)</text></g>
<g transform="translate(397.6,83.6) rotate(-90)"><text class="lb it" x="0" y="0">e</text><text class="m" font-size="17" transform="translate(10.8,10.1) skewX(-9) scale(1.13,0.86)">ϕ</text><text class="lb" x="26" y="0">(deg)</text></g>
<g transform="translate(372.6,202.6) rotate(-90)"><text class="lb it" x="0" y="0">e</text><text class="m" font-size="17" transform="translate(10.8,10.1) skewX(-9) scale(1.13,0.86)">ϕ</text><text class="lb" x="26" y="0">(deg)</text></g>
</svg></body></html>
